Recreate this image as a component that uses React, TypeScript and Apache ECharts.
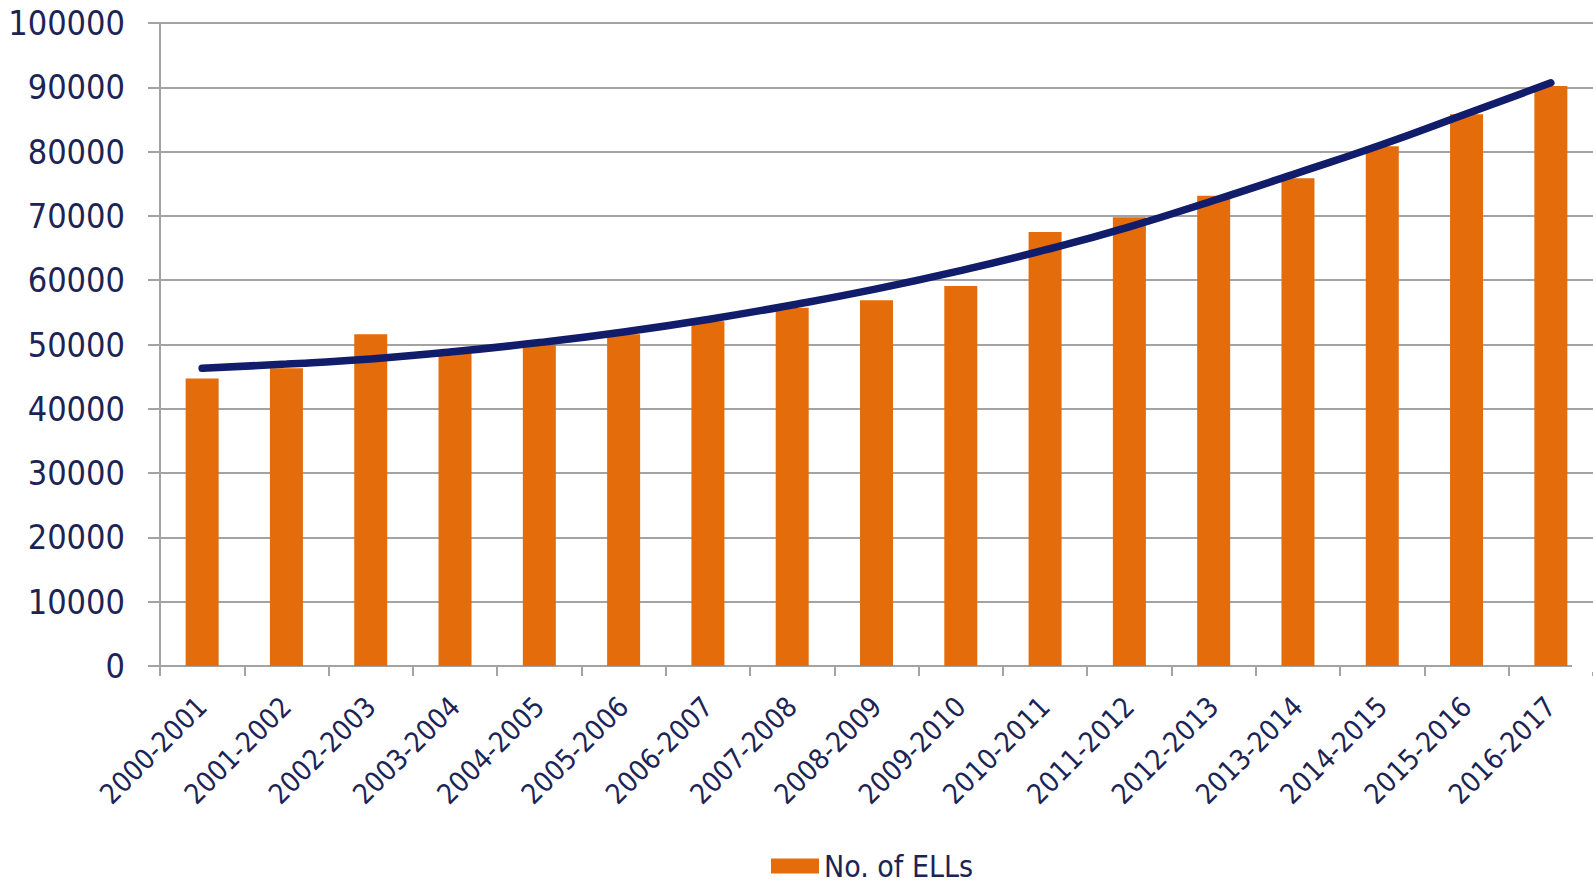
import React, { useEffect, useRef } from "react";
import * as echarts from "echarts";

const categories = [
  "2000-2001", "2001-2002", "2002-2003", "2003-2004", "2004-2005", "2005-2006",
  "2006-2007", "2007-2008", "2008-2009", "2009-2010", "2010-2011", "2011-2012",
  "2012-2013", "2013-2014", "2014-2015", "2015-2016", "2016-2017",
];

const ellCounts = [
  44700, 46300, 51600, 48600, 50000, 51600, 53600, 55700, 56900, 59100,
  67500, 69800, 73150, 75850, 80850, 85800, 90200,
];

const trendValues = [
  46300, 46950, 47750, 48900, 50300, 51950, 53900, 56150, 58650, 61500,
  64700, 68300, 72400, 76700, 81100, 85900, 90700,
];

const seriesName = "No. of ELLs";

const NAVY = "#1C2455";
const GRID_GRAY = "#A3A3A3";
const FONT = "'DejaVu Sans Condensed', 'DejaVu Sans', Verdana, sans-serif";

export default function App() {
  const ref = useRef<HTMLDivElement>(null);

  useEffect(() => {
    if (!ref.current) return;
    const chart = echarts.init(ref.current, null, { renderer: "svg" });
    chart.setOption({
      animation: false,
      backgroundColor: "#ffffff",
      grid: { left: 160, right: -8, top: 23, bottom: 216, containLabel: false },
      legend: {
        data: [seriesName],
        left: 771,
        top: 850,
        padding: 0,
        icon: "rect",
        itemWidth: 48,
        itemHeight: 15,
        selectedMode: false,
        textStyle: { fontFamily: FONT, fontSize: 30, color: NAVY, lineHeight: 32 },
      },
      xAxis: {
        type: "category",
        data: categories,
        axisLine: { show: true, lineStyle: { color: GRID_GRAY, width: 2 } },
        axisTick: { show: true, length: 10, lineStyle: { color: GRID_GRAY, width: 2 } },
        axisLabel: {
          rotate: 45,
          margin: 36,
          interval: 0,
          fontFamily: FONT,
          fontSize: 28,
          color: NAVY,
        },
      },
      yAxis: {
        type: "value",
        min: 0,
        max: 100000,
        interval: 10000,
        axisLine: { show: true, lineStyle: { color: GRID_GRAY, width: 2 } },
        axisTick: { show: true, length: 12, lineStyle: { color: GRID_GRAY, width: 2 } },
        splitLine: { show: true, lineStyle: { color: GRID_GRAY, width: 2 } },
        axisLabel: {
          margin: 35,
          fontFamily: FONT,
          fontSize: 34,
          color: NAVY,
          formatter: (v: number) => String(v),
        },
      },
      series: [
        {
          name: seriesName,
          type: "bar",
          data: ellCounts,
          barWidth: 33,
          itemStyle: { color: "#E46C0A" },
          z: 2,
        },
        {
          name: "Trend",
          type: "line",
          data: trendValues,
          smooth: true,
          symbol: "none",
          lineStyle: { color: "#111C6B", width: 7.5, cap: "round" },
          z: 5,
        },
      ],
      graphic: [
        {
          type: "rect",
          shape: { x: 1572, y: 650, width: 21, height: 22 },
          style: { fill: "#ffffff" },
          z: 100,
        },
      ],
    });
    return () => chart.dispose();
  }, []);

  return (
    <div
      ref={ref}
      style={{ position: "absolute", left: 0, top: 0, width: 1593, height: 882, background: "#fff" }}
    />
  );
}
